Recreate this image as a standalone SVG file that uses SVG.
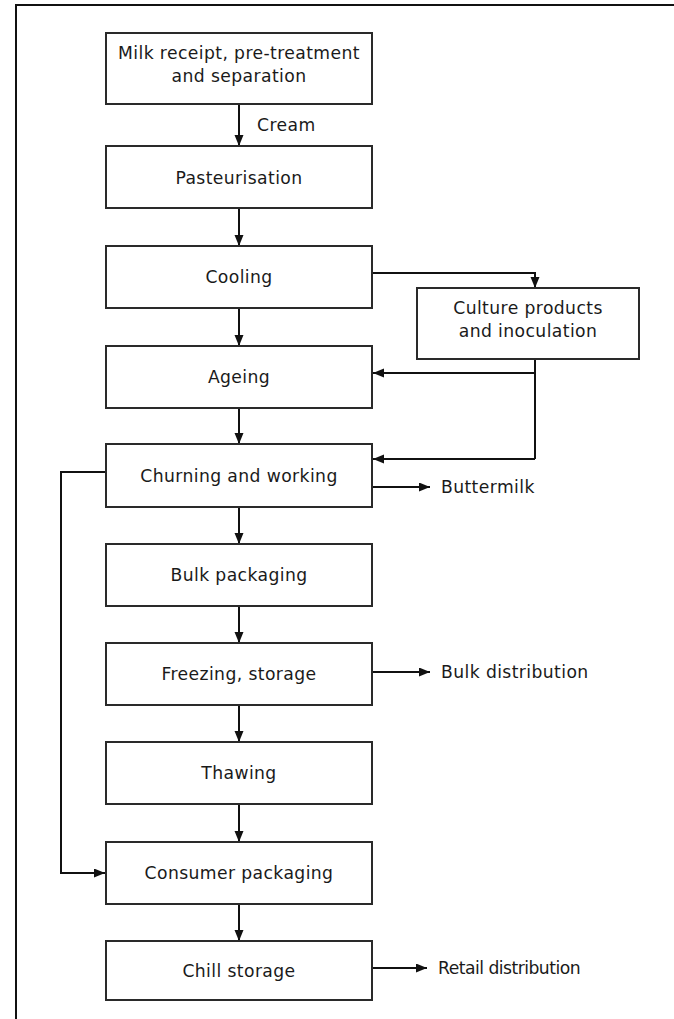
<svg xmlns="http://www.w3.org/2000/svg" width="674" height="1019" viewBox="0 0 674 1019">
  <defs>
    <marker id="arrow" markerUnits="userSpaceOnUse" markerWidth="12" markerHeight="10" refX="11" refY="4.5" orient="auto">
      <path d="M0,0 L11,4.5 L0,9 Z" fill="#111"/>
    </marker>
    <style>
      .box { fill: #fff; stroke: #2a2a2a; stroke-width: 2; }
      .lbl { font-family: "DejaVu Sans", "Liberation Sans", sans-serif; font-size: 17.2px; letter-spacing: 0.4px; fill: #1a1a1a; }
      .mid { text-anchor: middle; }
      .wire { fill: none; stroke: #111; stroke-width: 2; }
      .wire.arr { marker-end: url(#arrow); }
      .frame { stroke: #111; stroke-width: 2; fill: none; }
    </style>
  </defs>

  <rect width="674" height="1019" fill="#fff"/>
  <!-- page frame: top and left rules -->
  <path class="frame" d="M16,1019 V5 H674"/>

  <g id="connectors">
    <path class="wire arr" d="M239,104 V146"/>
    <path class="wire arr" d="M239,208 V246"/>
    <path class="wire arr" d="M239,308 V346"/>
    <path class="wire arr" d="M239,408 V444"/>
    <path class="wire arr" d="M239,507 V544"/>
    <path class="wire arr" d="M239,606 V643"/>
    <path class="wire arr" d="M239,705 V742"/>
    <path class="wire arr" d="M239,804 V842"/>
    <path class="wire arr" d="M239,904 V941"/>
    <!-- cooling to culture -->
    <path class="wire arr" d="M372,273 H535 V288"/>
    <!-- culture to ageing and churning -->
    <path class="wire" d="M535,359 V459"/>
    <path class="wire arr" d="M535,373 H373"/>
    <path class="wire arr" d="M535,459 H373"/>
    <!-- side outputs -->
    <path class="wire arr" d="M372,487 H430"/>
    <path class="wire arr" d="M372,672 H430"/>
    <path class="wire arr" d="M372,968 H427"/>
    <!-- churning bypass to consumer packaging -->
    <path class="wire arr" d="M106,472 H61 V873 H105"/>
  </g>

  <g id="cream-label"><text class="lbl" x="257" y="131">Cream</text></g>
  <g id="buttermilk"><text class="lbl" x="441" y="493">Buttermilk</text></g>
  <g id="bulk-distribution"><text class="lbl" x="441" y="678">Bulk distribution</text></g>
  <g id="retail-distribution"><text class="lbl" x="438" y="974" textLength="143" lengthAdjust="spacing">Retail distribution</text></g>

  <g id="milk-receipt">
    <rect class="box" x="106" y="33" width="266" height="71"/>
    <text class="lbl mid" x="239" y="58.5">Milk receipt, pre-treatment</text>
    <text class="lbl mid" x="239" y="81.5">and separation</text>
  </g>
  <g id="pasteurisation">
    <rect class="box" x="106" y="146" width="266" height="62"/>
    <text class="lbl mid" x="239" y="183.5">Pasteurisation</text>
  </g>
  <g id="cooling">
    <rect class="box" x="106" y="246" width="266" height="62"/>
    <text class="lbl mid" x="239" y="283">Cooling</text>
  </g>
  <g id="culture">
    <rect class="box" x="417" y="288" width="222" height="71"/>
    <text class="lbl mid" x="528" y="313.5">Culture products</text>
    <text class="lbl mid" x="528" y="336.5">and inoculation</text>
  </g>
  <g id="ageing">
    <rect class="box" x="106" y="346" width="266" height="62"/>
    <text class="lbl mid" x="239" y="383">Ageing</text>
  </g>
  <g id="churning">
    <rect class="box" x="106" y="444" width="266" height="63"/>
    <text class="lbl mid" x="239" y="481.5">Churning and working</text>
  </g>
  <g id="bulk-packaging">
    <rect class="box" x="106" y="544" width="266" height="62"/>
    <text class="lbl mid" x="239" y="581">Bulk packaging</text>
  </g>
  <g id="freezing">
    <rect class="box" x="106" y="643" width="266" height="62"/>
    <text class="lbl mid" x="239" y="680">Freezing, storage</text>
  </g>
  <g id="thawing">
    <rect class="box" x="106" y="742" width="266" height="62"/>
    <text class="lbl mid" x="239" y="779">Thawing</text>
  </g>
  <g id="consumer-packaging">
    <rect class="box" x="106" y="842" width="266" height="62"/>
    <text class="lbl mid" x="239" y="879">Consumer packaging</text>
  </g>
  <g id="chill-storage">
    <rect class="box" x="106" y="941" width="266" height="59"/>
    <text class="lbl mid" x="239" y="976.5">Chill storage</text>
  </g>
</svg>
